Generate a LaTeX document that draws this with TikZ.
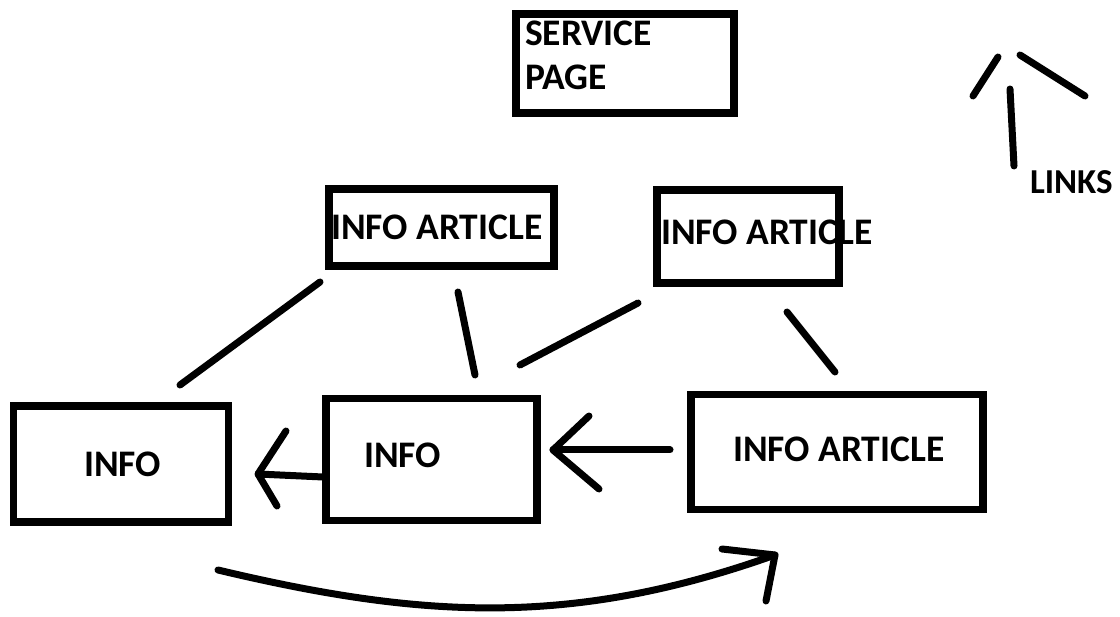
\documentclass[tikz,border=0pt]{standalone}
\usepackage{fontspec}
\setmainfont{Carlito}
\begin{document}
\begin{tikzpicture}[x=1pt,y=-1pt,
  box/.style={draw=black, line width=7.5pt, inner sep=0pt, outer sep=0pt},
  stroke/.style={draw=black, line width=7pt, line cap=round, line join=round},
  lbl/.style={font=\bfseries\fontsize{37.5}{44}\selectfont, anchor=base west, inner sep=0pt, outer sep=0pt, text=black},
  lblsmall/.style={lbl, font=\bfseries\fontsize{35}{42}\selectfont}]
\useasboundingbox[fill=white] (0,0) rectangle (1120,617);

% boxes
\node[box, minimum width=218pt, minimum height=99pt] (sp) at (625,63.5) {};
\node[box, minimum width=225pt, minimum height=77pt] (ia1) at (441.5,227.5) {};
\node[box, minimum width=182pt, minimum height=93pt] (ia2) at (748,236.5) {};
\node[box, minimum width=215pt, minimum height=116pt] (info1) at (121,464) {};
\node[box, minimum width=211pt, minimum height=122pt] (info2) at (431.5,459.5) {};
\node[box, minimum width=292pt, minimum height=115pt] (ia3) at (837,452) {};

% texts
\node[lbl] (spt1) at (525,46) {SERVICE};
\node[lbl] (spt2) at (525,90) {PAGE};
\node[lbl] (ia1t) at (331,240) {INFO ARTICLE};
\node[lbl] (ia2t) at (661,245) {INFO ARTICLE};
\node[lbl] (info1t) at (84,477) {INFO};
\node[lbl] (info2t) at (364,468) {INFO};
\node[lbl] (ia3t) at (733,462) {INFO ARTICLE};
\node[lblsmall] (links) at (1030,194) {LINKS};

% connector end points
\coordinate (l1a) at (320,282); \coordinate (l1b) at (180,385);
\coordinate (l2a) at (458,292); \coordinate (l2b) at (475,375);
\coordinate (l3a) at (638,303); \coordinate (l3b) at (520,365);
\coordinate (l4a) at (787,312); \coordinate (l4b) at (835,372);

\draw[stroke] (l1a) -- (l1b);
\draw[stroke] (l2a) -- (l2b);
\draw[stroke] (l3a) -- (l3b);
\draw[stroke] (l4a) -- (l4b);

% arrow INFO -> INFO
\coordinate (a1s) at (323,477); \coordinate (a1e) at (258,474);
\coordinate (a1h1) at (286,431); \coordinate (a1h2) at (277,506);
\draw[stroke] (a1s) -- (a1e);
\draw[stroke] (a1h1) -- (a1e) -- (a1h2);

% arrow INFO ARTICLE -> INFO
\coordinate (a2s) at (670,450); \coordinate (a2e) at (553,450);
\coordinate (a2h1) at (589,416); \coordinate (a2h2) at (599,489);
\draw[stroke] (a2s) -- (a2e);
\draw[stroke] (a2h1) -- (a2e) -- (a2h2);

% curved arrow
\coordinate (cs) at (218,570); \coordinate (ce) at (775,555);
\coordinate (ch1) at (722,549); \coordinate (ch2) at (766,601);
\draw[stroke] (cs) .. controls (420,618) and (570,628) .. (ce);
\draw[stroke] (ch1) -- (ce) -- (ch2);

% links arrow
\coordinate (ks) at (1014,166); \coordinate (ke) at (1010,89);
\coordinate (kl1) at (973,96); \coordinate (kl2) at (998,57);
\coordinate (kr1) at (1020,55); \coordinate (kr2) at (1085,96);
\draw[stroke] (ks) -- (ke);
\draw[stroke] (kl1) -- (kl2);
\draw[stroke] (kr1) -- (kr2);
\end{tikzpicture}
\end{document}
